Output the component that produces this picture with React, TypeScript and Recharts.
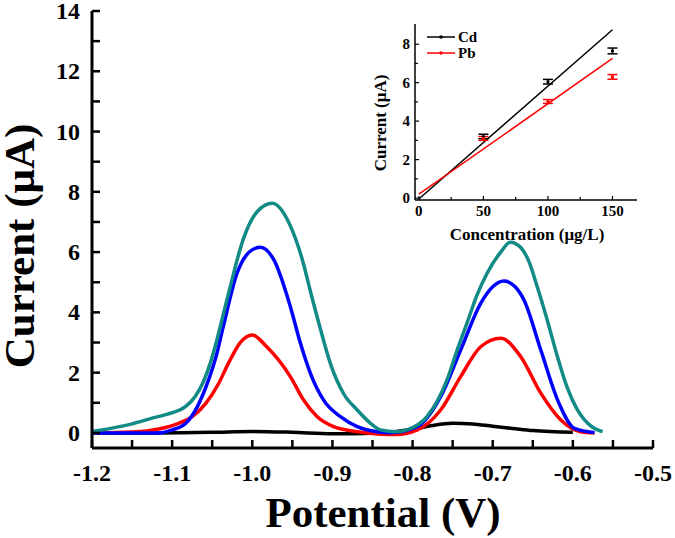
import React from "react"
import {
  ComposedChart,
  ErrorBar,
  Label,
  Line,
  LineChart,
  Scatter,
  XAxis,
  YAxis,
} from "recharts"

// main plot: stripping voltammograms, potential (V) vs current (µA)
const potentialTeal = [
  -1.2, -1.175, -1.15, -1.125, -1.1, -1.083, -1.071, -1.061, -1.052, -1.044, -1.036, -1.028,
  -1.011, -0.994, -0.975, -0.953, -0.936, -0.9275, -0.915, -0.9025, -0.886, -0.869, -0.8525,
  -0.84, -0.82, -0.807, -0.782, -0.757, -0.745, -0.732, -0.72, -0.707, -0.69, -0.678,
  -0.665, -0.655, -0.645, -0.632, -0.62, -0.607, -0.595, -0.586, -0.575, -0.563,
]
const currentTeal = [
  0.05, 0.16, 0.3, 0.49, 0.67, 0.88, 1.22, 1.7, 2.35, 3.1, 3.95, 4.8,
  6.45, 7.34, 7.62, 6.9, 5.6, 4.7, 3.45, 2.3, 1.3, 0.76, 0.32,
  0.1, 0.04, 0.1, 0.54, 1.76, 2.7, 3.65, 4.55, 5.3, 6.0, 6.33,
  6.15, 5.7, 4.9, 3.75, 2.6, 1.5, 0.8, 0.45, 0.18, 0.04,
]

const potentialBlue = [
  -1.2, -1.15, -1.117, -1.1, -1.083, -1.069, -1.054, -1.045, -1.036, -1.019, -1.003, -0.99,
  -0.973, -0.9525, -0.94, -0.9275, -0.911, -0.89, -0.869, -0.844, -0.828, -0.794, -0.765,
  -0.74, -0.715, -0.7, -0.686, -0.672, -0.661, -0.64, -0.619, -0.598, -0.573,
]
const currentBlue = [
  0, 0, 0, 0.1, 0.32, 0.85, 1.8, 2.55, 3.55, 5.3, 6.02, 6.16,
  5.74, 4.19, 2.98, 1.98, 1.09, 0.54, 0.21, 0.04, 0.01, 0.21, 1.2,
  2.75, 4.3, 4.85, 5.04, 4.85, 4.41, 2.75, 1.09, 0.15, 0.01,
]

const potentialRed = [
  -1.2, -1.15, -1.117, -1.092, -1.075, -1.058, -1.042, -1.03, -1.015, -1.0, -0.982, -0.9525,
  -0.936, -0.919, -0.8985, -0.869, -0.84, -0.82, -0.794, -0.765, -0.74, -0.715, -0.69,
  -0.665, -0.64, -0.615, -0.59, -0.573,
]
const currentRed = [
  0, 0.03, 0.13, 0.32, 0.54, 0.98, 1.64, 2.3, 3.0, 3.25, 2.86, 1.87,
  1.09, 0.54, 0.21, 0.04, -0.04, -0.05, 0.1, 0.76, 1.87, 2.86, 3.14,
  2.53, 1.32, 0.43, 0.04, 0,
]

const potentialBlack = [
  -1.2, -1.12, -1.05, -1.0, -0.95, -0.9, -0.85, -0.82, -0.8, -0.775, -0.75, -0.725,
  -0.7, -0.675, -0.65, -0.6,
]
const currentBlack = [
  0, 0, 0.02, 0.05, 0.02, -0.03, -0.01, 0.05, 0.12, 0.25, 0.32, 0.3,
  0.22, 0.15, 0.08, 0.02,
]

const potentialTicks = [
  -1.2, -1.15, -1.1, -1.05, -1.0, -0.95, -0.9, -0.85, -0.8, -0.75, -0.7, -0.65, -0.6,
  -0.55, -0.5,
]
const currentTicks = [0, 1, 2, 3, 4, 5, 6, 7, 8, 9, 10, 11, 12, 13, 14]

// inset: calibration, concentration (µg/L) vs peak current (µA)
const concentrations = [50, 100, 150]
const cdCurrent = [3.2, 6.05, 7.65]
const pbCurrent = [3.1, 5.02, 6.3]
const cdError = [0.12, 0.12, 0.15]
const pbError = [0.1, 0.1, 0.12]
const fitConcentration = [0, 150]
const cdFit = [-0.05, 8.75]
const pbFit = [0.2, 7.26]
const insetXTicks = [0, 25, 50, 75, 100, 125, 150]
const insetYTicks = [0, 1, 2, 3, 4, 5, 6, 7, 8]
const legendNames = ["Cd", "Pb"]

const serif = "'Liberation Serif', 'Times New Roman', serif"
const TEAL = "#128a86"

const toPoints = (xs: number[], ys: number[]) => xs.map((x, i) => ({ x, y: ys[i] }))

const curves = [
  { name: "blank", color: "#000000", data: toPoints(potentialBlack, currentBlack) },
  { name: "50", color: "#ff0000", data: toPoints(potentialRed, currentRed) },
  { name: "100", color: "#0000ff", data: toPoints(potentialBlue, currentBlue) },
  { name: "150", color: TEAL, data: toPoints(potentialTeal, currentTeal) },
]

const cdPoints = concentrations.map((c, i) => ({ x: c, y: cdCurrent[i], err: cdError[i] }))
const pbPoints = concentrations.map((c, i) => ({ x: c, y: pbCurrent[i], err: pbError[i] }))
const cdLine = toPoints(fitConcentration, cdFit)
const pbLine = toPoints(fitConcentration, pbFit)
const legendColors = ["#000000", "#ff0000"]

// ticks point into the plot, labels only on every other tick
function MainYTick(props: any) {
  const { x, y, payload } = props
  const ax = x + 12
  const show = payload.value % 2 === 0
  return (
    <g>
      <line x1={ax} x2={ax + 8} y1={y} y2={y} stroke="#000" strokeWidth={2.5} />
      {show && (
        <text x={x} y={y} dy={8} textAnchor="end" fontFamily={serif} fontWeight="bold" fontSize={24} fill="#000">
          {payload.value}
        </text>
      )}
    </g>
  )
}

function MainXTick(props: any) {
  const { x, y, payload } = props
  const ay = y - 14
  const major = Math.round(payload.value * 100) % 10 === 0
  return (
    <g>
      <line x1={x} x2={x} y1={ay} y2={ay - 8} stroke="#000" strokeWidth={2.5} />
      {major && (
        <text x={x} y={ay + 33} textAnchor="middle" fontFamily={serif} fontWeight="bold" fontSize={24} fill="#000">
          {payload.value.toFixed(1)}
        </text>
      )}
    </g>
  )
}

function InsetYTick(props: any) {
  const { x, y, payload } = props
  const ax = x + 5
  const show = payload.value % 2 === 0
  return (
    <g>
      <line x1={ax} x2={ax + (show ? 4 : 3)} y1={y} y2={y} stroke="#000" strokeWidth={1.2} />
      {show && (
        <text x={x} y={y} dy={5} textAnchor="end" fontFamily={serif} fontWeight="bold" fontSize={15} fill="#000">
          {payload.value}
        </text>
      )}
    </g>
  )
}

function InsetXTick(props: any) {
  const { x, y, payload } = props
  const ay = y - 4
  const show = payload.value % 50 === 0
  return (
    <g>
      <line x1={x} x2={x} y1={ay} y2={ay - (show ? 4 : 3)} stroke="#000" strokeWidth={1.2} />
      {show && (
        <text x={x} y={ay + 16} textAnchor="middle" fontFamily={serif} fontWeight="bold" fontSize={15} fill="#000">
          {payload.value}
        </text>
      )}
    </g>
  )
}

function InsetLegend() {
  return (
    <svg width={60} height={34} style={{ display: "block" }}>
      {legendNames.map((name, i) => (
        <g key={name}>
          <line x1={0} x2={28} y1={7 + i * 16} y2={7 + i * 16} stroke={legendColors[i]} strokeWidth={1.5} />
          <circle cx={14} cy={7 + i * 16} r={1.8} fill={legendColors[i]} />
          <text x={31} y={12 + i * 16} fontFamily={serif} fontWeight="bold" fontSize={15} fill="#000">
            {name}
          </text>
        </g>
      ))}
    </svg>
  )
}

function Inset() {
  return (
    <ComposedChart width={290} height={250} margin={{ top: 24, right: 13, bottom: 0, left: 0 }}>
      <XAxis
        xAxisId="b"
        type="number"
        dataKey="x"
        domain={[-3, 169]}
        ticks={insetXTicks}
        interval={0}
        tickSize={0}
        tickMargin={4}
        tickLine={false}
        tick={<InsetXTick />}
        height={50}
        axisLine={{ stroke: "#000", strokeWidth: 1.5 }}
      >
        <Label
          content={() => (
            <text x={167} y={240} textAnchor="middle" fontFamily={serif} fontWeight="bold" fontSize={17} fill="#000">
              Concentration (μg/L)
            </text>
          )}
        />
      </XAxis>
      <XAxis xAxisId="t" orientation="top" type="number" domain={[-3, 169]} height={0} tick={false} tickLine={false} axisLine={{ stroke: "#000", strokeWidth: 1.5 }} />
      <YAxis
        yAxisId="l"
        type="number"
        domain={[-0.1, 9.05]}
        ticks={insetYTicks}
        interval={0}
        tickSize={0}
        tickMargin={5}
        tickLine={false}
        tick={<InsetYTick />}
        width={55}
        axisLine={{ stroke: "#000", strokeWidth: 1.5 }}
      >
        <Label
          content={() => (
            <text x={26} y={123} transform="rotate(-90 26 123)" textAnchor="middle" fontFamily={serif} fontWeight="bold" fontSize={17} fill="#000">
              Current (μA)
            </text>
          )}
        />
      </YAxis>
      <YAxis yAxisId="r" orientation="right" type="number" domain={[-0.1, 9.05]} width={0} tick={false} tickLine={false} axisLine={{ stroke: "#000", strokeWidth: 1.5 }} />
      <Line xAxisId="b" yAxisId="l" data={cdLine} dataKey="y" stroke="#000" strokeWidth={1.5} dot={false} isAnimationActive={false} />
      <Line xAxisId="b" yAxisId="l" data={pbLine} dataKey="y" stroke="#ff0000" strokeWidth={1.5} dot={false} isAnimationActive={false} />
      <Scatter xAxisId="b" yAxisId="l" data={cdPoints} dataKey="y" fill="#000" shape={(p: any) => <circle cx={p.cx} cy={p.cy} r={1.6} fill="#000" />} isAnimationActive={false}>
        <ErrorBar dataKey="err" direction="y" width={5} stroke="#000" strokeWidth={1.5} />
      </Scatter>
      <Scatter xAxisId="b" yAxisId="l" data={pbPoints} dataKey="y" fill="#ff0000" shape={(p: any) => <circle cx={p.cx} cy={p.cy} r={1.6} fill="#ff0000" />} isAnimationActive={false}>
        <ErrorBar dataKey="err" direction="y" width={5} stroke="#ff0000" strokeWidth={1.5} />
      </Scatter>
    </ComposedChart>
  )
}

export default function App() {
  return (
    <div style={{ position: "absolute", left: 0, top: 0, width: 675, height: 538, background: "#fff" }}>
      <LineChart width={675} height={538} margin={{ top: 11, right: 22, bottom: 0, left: 0 }}>
        <XAxis
          xAxisId="b"
          type="number"
          dataKey="x"
          domain={[-1.2, -0.5]}
          ticks={potentialTicks}
          interval={0}
          tickSize={0}
          tickMargin={14}
          tickLine={false}
          tick={<MainXTick />}
          height={90}
          axisLine={{ stroke: "#000", strokeWidth: 3 }}
          allowDataOverflow
        >
          <Label
            content={() => (
              <text x={383} y={527} textAnchor="middle" fontFamily={serif} fontWeight="bold" fontSize={43} fill="#000">
                Potential (V)
              </text>
            )}
          />
        </XAxis>
        <XAxis xAxisId="t" orientation="top" type="number" domain={[-1.2, -0.5]} height={0} tick={false} tickLine={false} axisLine={{ stroke: "#000", strokeWidth: 3 }} />
        <YAxis
          yAxisId="l"
          type="number"
          domain={[-0.5, 14]}
          ticks={currentTicks}
          interval={0}
          tickSize={0}
          tickMargin={12}
          tickLine={false}
          tick={<MainYTick />}
          width={92}
          axisLine={{ stroke: "#000", strokeWidth: 3 }}
          allowDataOverflow
        >
          <Label
            content={() => (
              <text x={21} y={246} transform="rotate(-90 21 246)" dy={13} textAnchor="middle" fontFamily={serif} fontWeight="bold" fontSize={43} fill="#000">
                Current (μA)
              </text>
            )}
          />
        </YAxis>
        <YAxis yAxisId="r" orientation="right" type="number" domain={[-0.5, 14]} width={0} tick={false} tickLine={false} axisLine={{ stroke: "#000", strokeWidth: 3 }} />
        {curves.map((c) => (
          <Line
            key={c.name}
            xAxisId="b"
            yAxisId="l"
            data={c.data}
            dataKey="y"
            type="monotone"
            stroke={c.color}
            strokeWidth={3.5}
            dot={false}
            isAnimationActive={false}
          />
        ))}
      </LineChart>
      <div style={{ position: "absolute", left: 360, top: 0 }}>
        <Inset />
      </div>
      <div style={{ position: "absolute", left: 427, top: 30 }}>
        <InsetLegend />
      </div>
    </div>
  )
}
